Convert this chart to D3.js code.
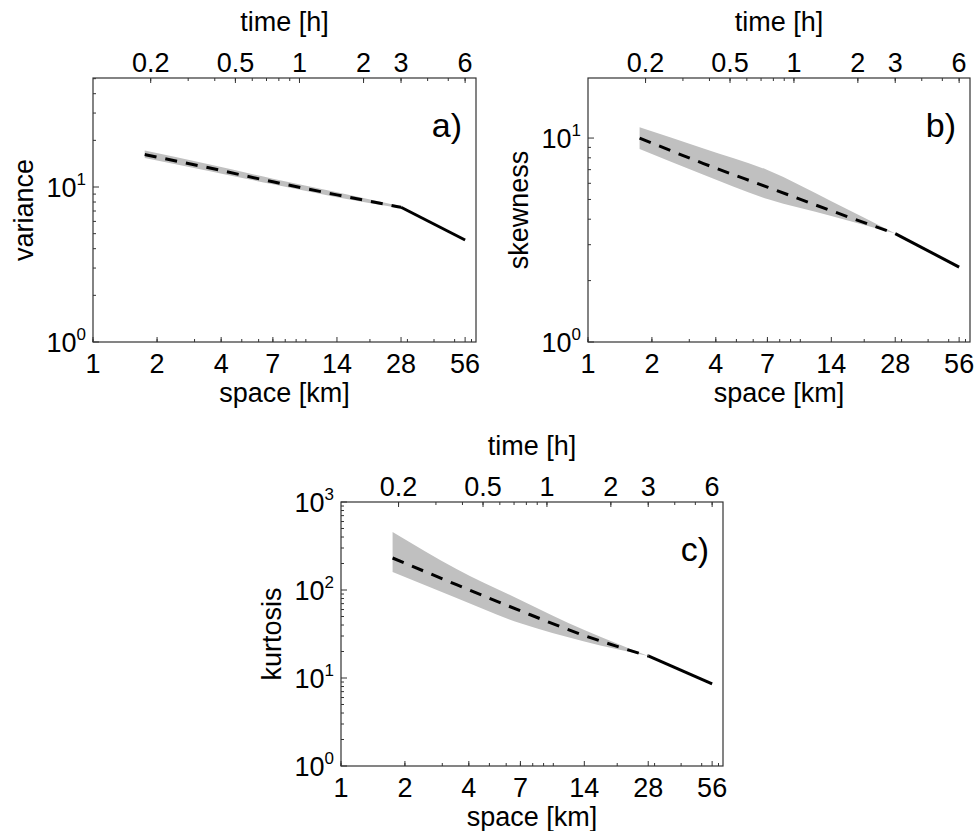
<!DOCTYPE html>
<html>
<head>
<meta charset="utf-8">
<script src="https://cdn.jsdelivr.net/npm/d3@7"></script>
<style>
    body { margin: 0; background: #fff; }
    text { font-family: "Liberation Sans", Arial, sans-serif; fill: #000; }
</style>
</head>
<body>
<div id="chart"></div>
<script>
// space [km] sample positions
const spaceBand = [1.75, 3.5, 7, 14, 28];
const spaceTail = [28, 56];
const spaceTicks = [1, 2, 4, 7, 14, 28, 56];
const timeTicks = [0.2, 0.5, 1, 2, 3, 6];
const hoursAt28km = 3;

// a) variance
const varianceMean = [16.2, 13.3, 10.8, 8.9, 7.4];
const varianceUpper = [17.2, 14.0, 11.3, 9.25, 7.5];
const varianceLower = [15.4, 12.7, 10.4, 8.6, 7.3];
const varianceTail = [7.4, 4.55];

// b) skewness
const skewnessMean = [10.0, 7.5, 5.75, 4.4, 3.4];
const skewnessUpper = [11.3, 8.9, 6.97, 4.9, 3.4];
const skewnessLower = [8.84, 6.6, 5.02, 4.15, 3.4];
const skewnessTail = [3.4, 2.33];

// c) kurtosis
const kurtosisMean = [231, 115, 58, 30.4, 17.8];
const kurtosisUpper = [456, 173, 77, 35, 17.8];
const kurtosisLower = [160, 81, 41.8, 26, 17.8];
const kurtosisTail = [17.8, 8.55];

const panels = [
    {id: 'a)', ylabel: 'variance', left: 93, top: 78, w: 383, h: 264, ymax: 50.5,
     mean: varianceMean, upper: varianceUpper, lower: varianceLower, tail: varianceTail},
    {id: 'b)', ylabel: 'skewness', left: 588, top: 78, w: 382, h: 264, ymax: 19.7,
     mean: skewnessMean, upper: skewnessUpper, lower: skewnessLower, tail: skewnessTail},
    {id: 'c)', ylabel: 'kurtosis', left: 341, top: 502, w: 382, h: 264, ymax: 1000,
     mean: kurtosisMean, upper: kurtosisUpper, lower: kurtosisLower, tail: kurtosisTail}
];

const svg = d3.select('#chart').append('svg')
    .attr('width', 974)
    .attr('height', 831);

const drawPanel = function (p) {
    const g = svg.append('g').attr('transform', `translate(${p.left},${p.top})`);

    const x = d3.scaleLog().domain([1, 63]).range([0, p.w]);
    const t = d3.scaleLog().domain(x.domain().map(d => d * hoursAt28km / 28)).range([0, p.w]);
    const y = d3.scaleLog().domain([1, p.ymax]).range([p.h, 0]);

    const band = d3.area()
        .curve(d3.curveMonotoneX)
        .x((d, i) => x(spaceBand[i]))
        .y0((d, i) => y(p.lower[i]))
        .y1((d, i) => y(p.upper[i]));

    const line = d3.line()
        .x(d => x(d[0]))
        .y(d => y(d[1]));

    g.append('path')
        .datum(p.mean)
        .attr('d', band)
        .style('fill', '#c0c0c0');

    g.append('path')
        .datum(d3.zip(spaceBand, p.mean))
        .attr('d', line.curve(d3.curveMonotoneX))
        .style('fill', 'none')
        .style('stroke', '#000')
        .style('stroke-width', 3)
        .style('stroke-dasharray', '12,9');

    g.append('path')
        .datum(d3.zip(spaceTail, p.tail))
        .attr('d', line.curve(d3.curveLinear))
        .style('fill', 'none')
        .style('stroke', '#000')
        .style('stroke-width', 3);

    // box
    g.append('rect')
        .attr('width', p.w)
        .attr('height', p.h)
        .style('fill', 'none')
        .style('stroke', '#333')
        .style('stroke-width', 1.2);

    const ticks = g.append('g').style('stroke', '#333').style('stroke-width', 1);

    // bottom (space)
    x.ticks().forEach(v => {
        ticks.append('line').attr('x1', x(v)).attr('x2', x(v))
            .attr('y1', p.h).attr('y2', p.h - 3);
    });
    spaceTicks.forEach(v => {
        ticks.append('line').attr('x1', x(v)).attr('x2', x(v))
            .attr('y1', p.h).attr('y2', p.h - 5);
        g.append('text')
            .attr('x', x(v)).attr('y', p.h + 31)
            .attr('text-anchor', 'middle')
            .style('font-size', '27px')
            .text(v);
    });

    // top (time)
    t.ticks().forEach(v => {
        ticks.append('line').attr('x1', t(v)).attr('x2', t(v))
            .attr('y1', 0).attr('y2', 3);
    });
    timeTicks.forEach(v => {
        ticks.append('line').attr('x1', t(v)).attr('x2', t(v))
            .attr('y1', 0).attr('y2', 5);
        g.append('text')
            .attr('x', t(v)).attr('y', -6)
            .attr('text-anchor', 'middle')
            .style('font-size', '27px')
            .text(v);
    });

    // left (log y)
    y.ticks().forEach(v => {
        const major = Math.abs(Math.log10(v) - Math.round(Math.log10(v))) < 1e-9;
        ticks.append('line').attr('x1', 0).attr('x2', major ? 6 : 3)
            .attr('y1', y(v)).attr('y2', y(v));
        if (major) {
            const lab = g.append('text')
                .attr('x', -7).attr('y', y(v) + 10)
                .attr('text-anchor', 'end')
                .style('font-size', '27px');
            lab.append('tspan').text('10');
            lab.append('tspan').attr('dy', -12).style('font-size', '17px')
                .text(Math.round(Math.log10(v)));
        }
    });

    g.append('text')
        .attr('x', p.w / 2).attr('y', -47)
        .attr('text-anchor', 'middle')
        .style('font-size', '27px')
        .text('time [h]');

    g.append('text')
        .attr('x', p.w / 2).attr('y', p.h + 60)
        .attr('text-anchor', 'middle')
        .style('font-size', '27px')
        .text('space [km]');

    g.append('text')
        .attr('transform', `translate(-60,${p.h / 2}) rotate(-90)`)
        .attr('text-anchor', 'middle')
        .style('font-size', '27px')
        .text(p.ylabel);

    g.append('text')
        .attr('x', p.w - 14).attr('y', 59)
        .attr('text-anchor', 'end')
        .style('font-size', '34px')
        .text(p.id);
};

panels.forEach(drawPanel);
</script>
</body>
</html>
